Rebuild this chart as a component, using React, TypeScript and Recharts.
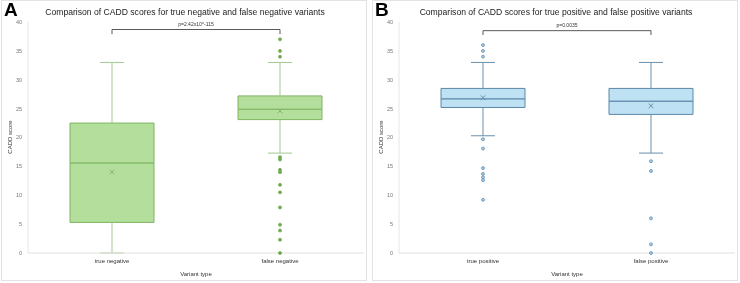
import React from 'react';
import { Bar, ComposedChart, ReferenceLine, Scatter, XAxis, YAxis } from 'recharts';

// five-number summaries + means, read per variant type
const negCategories = ['true negative', 'false negative'];
const negMin = [0, 17.3];
const negQ1 = [5.3, 23.1];
const negMedian = [15.6, 24.9];
const negQ3 = [22.5, 27.2];
const negMax = [33, 33];
const negMean = [14.0, 24.6];
const negOutliers = [[], [37, 35, 34, 16.6, 16.2, 14.4, 14.0, 11.8, 10.5, 7.9, 4.9, 3.9, 2.3, 0]];

const posCategories = ['true positive', 'false positive'];
const posMin = [20.3, 17.3];
const posQ1 = [25.2, 24.0];
const posMedian = [26.7, 26.3];
const posQ3 = [28.5, 28.5];
const posMax = [33, 33];
const posMean = [26.9, 25.5];
const posOutliers = [[36, 35, 34, 19.7, 18.1, 14.7, 13.7, 13.1, 12.6, 9.2], [15.9, 14.2, 6.0, 1.5, 0]];

const yTicks = [0, 5, 10, 15, 20, 25, 30, 35, 40];

const W = 366;
const H = 281;

type Palette = { fill: string; stroke: string; whisker: string; dot: string; dotFill: string };

const green: Palette = { fill: '#b3de9c', stroke: '#7db560', whisker: '#a3c98f', dot: '#6fab4c', dotFill: '#6fab4c' };
const blue: Palette = { fill: '#bee1f3', stroke: '#5c87a7', whisker: '#6890ae', dot: '#6892b2', dotFill: '#a8cbe0' };

function buildRows(cats: string[], min: number[], q1: number[], med: number[], q3: number[], max: number[], mean: number[]) {
  return cats.map((name, i) => ({
    name,
    base: min[i],
    lowWhisker: q1[i] - min[i],
    lowBox: med[i] - q1[i],
    highBox: q3[i] - med[i],
    highWhisker: max[i] - q3[i],
    mean: mean[i],
  }));
}

function buildOutliers(cats: string[], outliers: number[][]) {
  return cats.flatMap((name, i) => outliers[i].map((value) => ({ name, value })));
}

const whisker = (color: string, capAtTop: boolean) => (props: any) => {
  const { x, y, width, height } = props;
  const cx = x + width / 2;
  const capY = capAtTop ? y : y + height;
  return (
    <g>
      <line x1={cx} x2={cx} y1={y} y2={y + height} stroke={color} strokeWidth={1} />
      <line x1={cx - 12} x2={cx + 12} y1={capY} y2={capY} stroke={color} strokeWidth={1} />
    </g>
  );
};

const meanMark = (color: string) => (props: any) => {
  const { cx, cy } = props;
  const s = 2.3;
  return (
    <g stroke={color} strokeWidth={0.9}>
      <line x1={cx - s} y1={cy - s} x2={cx + s} y2={cy + s} />
      <line x1={cx - s} y1={cy + s} x2={cx + s} y2={cy - s} />
    </g>
  );
};

const dotMark = (stroke: string, fill: string) => (props: any) => (
  <circle cx={props.cx} cy={props.cy} r={1.5} fill={fill} stroke={stroke} strokeWidth={0.8} />
);

interface PanelProps {
  letter: string;
  title: string;
  pLabel: string;
  rows: ReturnType<typeof buildRows>;
  outliers: { name: string; value: number }[];
  palette: Palette;
  left: number;
  bracketY: number;
  legY: number;
}

function Panel({ letter, title, pLabel, rows, outliers, palette, left, bracketY, legY }: PanelProps) {
  const [c0, c1] = [rows[0].name, rows[1].name];
  const textFont = '"Liberation Sans", Arial, sans-serif';
  return (
    <div style={{ position: 'absolute', left, top: 0, width: W, height: H, border: '1px solid #e3e3e3', boxSizing: 'border-box', fontFamily: textFont }}>
      <div style={{ position: 'absolute', left: 2, top: -1, fontSize: 19, fontWeight: 700, color: '#000', lineHeight: '20px' }}>{letter}</div>
      <div style={{ position: 'absolute', left: 0, width: W, top: 5, textAlign: 'center', fontSize: 8.6, color: '#222', lineHeight: '12px' }}>{title}</div>
      <div style={{ position: 'absolute', left: 2, top: 136, width: 0, height: 0 }}>
        <div style={{ position: 'absolute', transform: 'translate(-50%, -50%) rotate(-90deg)', whiteSpace: 'nowrap', fontSize: 6, color: '#333', left: 6, top: 0 }}>CADD score</div>
      </div>
      <ComposedChart width={W} height={H} data={rows} margin={{ top: 22, right: 3, bottom: 0, left: 7 }} barSize={84} style={{ position: 'absolute', left: -1, top: -1 }}>
        <XAxis
          dataKey="name"
          allowDuplicatedCategory={false}
          height={28}
          tickSize={0}
          tickMargin={6}
          tick={{ fontSize: 6, fill: '#333' }}
          axisLine={{ stroke: '#e0e0e0' }}
          label={{ value: 'Variant type', position: 'insideBottom', offset: 5, fontSize: 6, fill: '#333' }}
        />
        <YAxis
          type="number"
          domain={[0, 40]}
          ticks={yTicks}
          width={20}
          tickSize={0}
          tickMargin={6}
          tick={{ fontSize: 5.5, fill: '#777' }}
          axisLine={{ stroke: '#e6e6e6' }}
        />
        <Bar dataKey="base" stackId="box" fill="none" isAnimationActive={false} />
        <Bar dataKey="lowWhisker" stackId="box" shape={whisker(palette.whisker, false)} isAnimationActive={false} />
        <Bar dataKey="lowBox" stackId="box" fill={palette.fill} stroke={palette.stroke} strokeWidth={1} isAnimationActive={false} />
        <Bar dataKey="highBox" stackId="box" fill={palette.fill} stroke={palette.stroke} strokeWidth={1} isAnimationActive={false} />
        <Bar dataKey="highWhisker" stackId="box" shape={whisker(palette.whisker, true)} isAnimationActive={false} />
        <Scatter dataKey="mean" shape={meanMark(palette.stroke)} isAnimationActive={false} />
        <Scatter data={outliers} dataKey="value" shape={dotMark(palette.dot, palette.dotFill)} isAnimationActive={false} />
        <ReferenceLine
          segment={[{ x: c0, y: bracketY }, { x: c1, y: bracketY }]}
          stroke="#5a5a5a"
          strokeWidth={1}
          label={{ value: pLabel, position: 'top', fontSize: 5, fill: '#333', offset: 4 }}
        />
        <ReferenceLine segment={[{ x: c0, y: bracketY }, { x: c0, y: legY }]} stroke="#5a5a5a" strokeWidth={1} />
        <ReferenceLine segment={[{ x: c1, y: bracketY }, { x: c1, y: legY }]} stroke="#5a5a5a" strokeWidth={1} />
      </ComposedChart>
    </div>
  );
}

export default function App() {
  const negRows = buildRows(negCategories, negMin, negQ1, negMedian, negQ3, negMax, negMean);
  const posRows = buildRows(posCategories, posMin, posQ1, posMedian, posQ3, posMax, posMean);
  return (
    <div style={{ position: 'fixed', left: 0, top: 0, width: 740, height: 283, background: '#fff' }}>
      <Panel
        letter="A"
        title="Comparison of CADD scores for true negative and false negative variants"
        pLabel="p=2.42x10^-115"
        rows={negRows}
        outliers={buildOutliers(negCategories, negOutliers)}
        palette={green}
        left={1}
        bracketY={38.7}
        legY={37.9}
      />
      <Panel
        letter="B"
        title="Comparison of CADD scores for true positive and false positive variants"
        pLabel="p=0.0035"
        rows={posRows}
        outliers={buildOutliers(posCategories, posOutliers)}
        palette={blue}
        left={372}
        bracketY={38.5}
        legY={37.75}
      />
    </div>
  );
}
